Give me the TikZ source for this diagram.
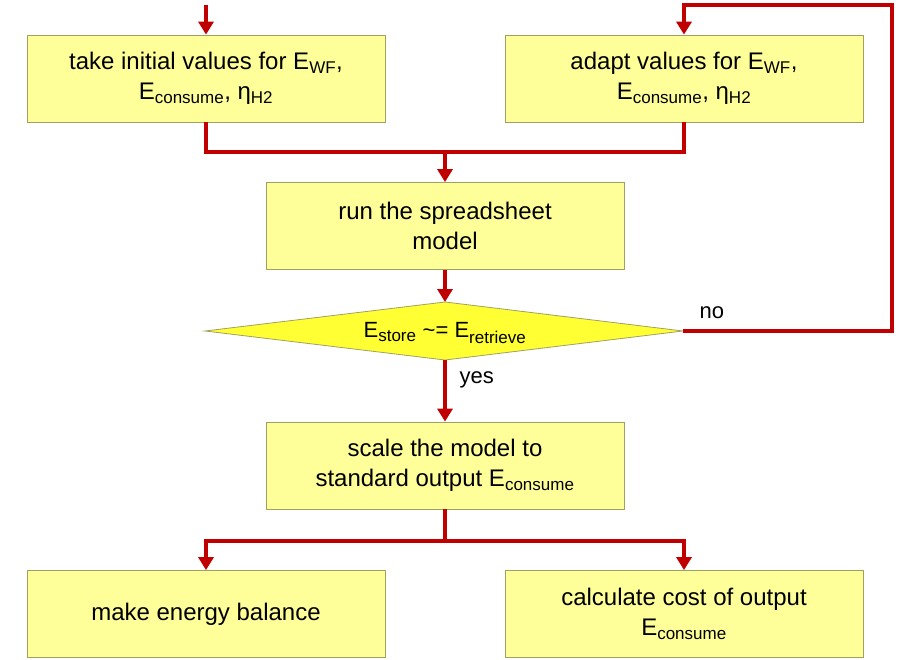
\documentclass[tikz,border=0pt]{standalone}
\usepackage{fontspec}
\setmainfont{Liberation Sans}
\usetikzlibrary{arrows.meta}
\definecolor{boxfill}{HTML}{FFFF99}
\definecolor{boxdraw}{HTML}{A0A060}
\definecolor{dia}{HTML}{FFFF33}
\definecolor{arr}{HTML}{C00000}
\begin{document}
\begin{tikzpicture}[x=1pt,y=-1pt,
  box/.style={draw=boxdraw,fill=boxfill,line width=0.8pt,minimum width=358pt,minimum height=87pt,align=center,font=\fontsize{24}{30}\selectfont,inner sep=0pt},
  conn/.style={draw=arr,line width=3.5pt},
  arw/.style={conn,-{Triangle[length=13pt,width=15pt]}},
  lbl/.style={font=\fontsize{22}{26}\selectfont}]
\useasboundingbox (0,0) rectangle (920,660);
\newcommand{\sbs}[1]{\textsubscript{\fontsize{17}{20}\selectfont #1}}
\node[box] (a) at (206,78.5) {take initial values for E\sbs{WF},\\E\sbs{consume}, η\sbs{H2}};
\node[box] (b) at (684,78.5) {adapt values for E\sbs{WF},\\E\sbs{consume}, η\sbs{H2}};
\node[box] (r) at (445,226) {run the spreadsheet\\model};
\path[draw=boxdraw,fill=dia,line width=0.8pt] (205,331) -- (445,302) -- (683,331) -- (445,360) -- cycle;
\coordinate (dl) at (205,331); \coordinate (dt) at (445,302); \coordinate (dr) at (683,331); \coordinate (db) at (445,360);
\node[font=\fontsize{22}{26}\selectfont] (d) at (445,333) {E\sbs{store} \textasciitilde= E\sbs{retrieve}};
\node[box] (s) at (445,465.5) {scale the model to\\standard output E\sbs{consume}};
\node[box] (m) at (206,614) {make energy balance};
\node[box] (c) at (684,614) {calculate cost of output\\E\sbs{consume}};
\coordinate (top) at (206,5);
\draw[arw] (top) -- (a.north);
\draw[conn] (a.south) |- (445,152) coordinate (j1);
\draw[conn] (b.south) |- (j1);
\draw[arw] (j1) -- (r.north);
\draw[arw] (r.south) -- (dt);
\draw[arw] (db) -- (s.north);
\draw[conn] (s.south) -- (445,541) coordinate (j2);
\draw[arw] (j2) -| (m.north);
\draw[arw] (j2) -| (c.north);
\draw[arw] (dr) -- (892,331) -- (892,5) -| (b.north);
\node[lbl,anchor=west] (no) at (696,313) {no};
\node[lbl,anchor=west] (yes) at (456,380) {yes};
\end{tikzpicture}
\end{document}
